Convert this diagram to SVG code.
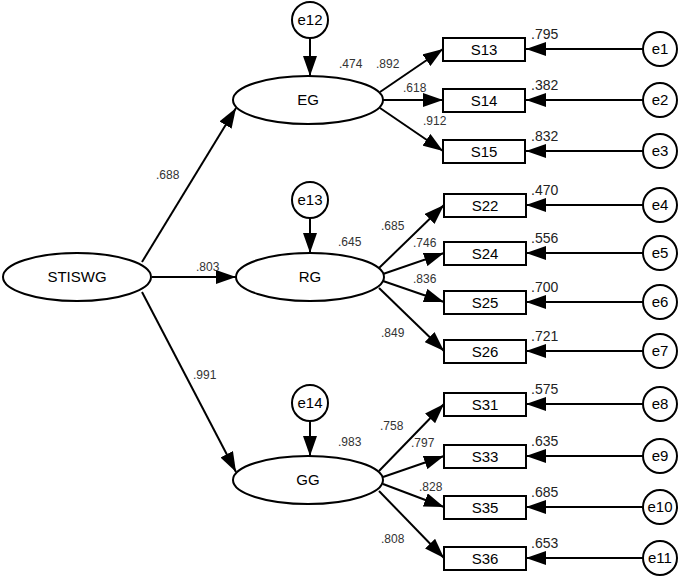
<svg xmlns="http://www.w3.org/2000/svg" width="685" height="580" viewBox="0 0 685 580">
<style>
.s{fill:#fff;stroke:#000;stroke-width:2}
.t{font-family:"Liberation Sans",Arial,sans-serif;font-size:15px;text-anchor:middle;fill:#000}
.c{font-family:"Liberation Sans",Arial,sans-serif;font-size:12px;fill:#333}
.v{font-family:"Liberation Sans",Arial,sans-serif;font-size:14px;fill:#222}
.l{stroke:#000;stroke-width:2;fill:none;marker-end:url(#a)}
</style>
<defs><marker id="a" viewBox="0 0 10 10" refX="10" refY="5" markerWidth="10" markerHeight="8" markerUnits="userSpaceOnUse" orient="auto" style="overflow:visible"><path d="M0,0L10,5L0,10z" transform="scale(2,1.3) translate(-5,-1.15)" fill="#000"/></marker>
<marker id="b" viewBox="0 0 20 14" refX="20" refY="7" markerWidth="20" markerHeight="14" markerUnits="userSpaceOnUse" orient="auto"><path d="M0,0L20,7L0,14z" fill="#000"/></marker></defs>
<g id="connectors" fill="none" stroke="#000" stroke-width="2">
<g marker-end="url(#b)">
<line x1="142" y1="262" x2="236" y2="108"/>
<line x1="152" y1="277" x2="236" y2="277"/>
<line x1="142" y1="292" x2="236" y2="472"/>
<line x1="310" y1="38" x2="310" y2="76"/>
<line x1="310" y1="218" x2="310" y2="253"/>
<line x1="310" y1="421" x2="310" y2="456"/>
<line x1="380" y1="92" x2="443" y2="49"/>
<line x1="383" y1="100" x2="443" y2="100"/>
<line x1="380" y1="108" x2="443" y2="151"/>
<line x1="379" y1="268" x2="444" y2="205"/>
<line x1="383" y1="274" x2="444" y2="253"/>
<line x1="383" y1="281" x2="444" y2="302"/>
<line x1="379" y1="288" x2="444" y2="351"/>
<line x1="379" y1="471" x2="444" y2="404"/>
<line x1="383" y1="477" x2="444" y2="456"/>
<line x1="383" y1="484" x2="444" y2="507"/>
<line x1="379" y1="491" x2="444" y2="558"/>
<line x1="643" y1="49" x2="526" y2="49"/>
<line x1="643" y1="100" x2="526" y2="100"/>
<line x1="643" y1="151" x2="526" y2="151"/>
<line x1="643" y1="205" x2="526" y2="205"/>
<line x1="643" y1="253" x2="526" y2="253"/>
<line x1="643" y1="302" x2="526" y2="302"/>
<line x1="643" y1="351" x2="526" y2="351"/>
<line x1="643" y1="404" x2="526" y2="404"/>
<line x1="643" y1="456" x2="526" y2="456"/>
<line x1="643" y1="507" x2="526" y2="507"/>
<line x1="643" y1="558" x2="526" y2="558"/>
</g>
</g>
<g id="labels">
<text class="c" x="156" y="179">.688</text>
<text class="c" x="196" y="271">.803</text>
<text class="c" x="193" y="379">.991</text>
<text class="c" x="339" y="68">.474</text>
<text class="c" x="376" y="68">.892</text>
<text class="c" x="403" y="92">.618</text>
<text class="c" x="423" y="125">.912</text>
<text class="c" x="381" y="230">.685</text>
<text class="c" x="338" y="246">.645</text>
<text class="c" x="413" y="247">.746</text>
<text class="c" x="413" y="283">.836</text>
<text class="c" x="381" y="337">.849</text>
<text class="c" x="380" y="430">.758</text>
<text class="c" x="338" y="446">.983</text>
<text class="c" x="411" y="447">.797</text>
<text class="c" x="419" y="491">.828</text>
<text class="c" x="381" y="543">.808</text>
<text class="v" x="531" y="39">.795</text>
<text class="v" x="531" y="90">.382</text>
<text class="v" x="531" y="141">.832</text>
<text class="v" x="531" y="195">.470</text>
<text class="v" x="531" y="243">.556</text>
<text class="v" x="531" y="292">.700</text>
<text class="v" x="531" y="341">.721</text>
<text class="v" x="531" y="394">.575</text>
<text class="v" x="531" y="446">.635</text>
<text class="v" x="531" y="497">.685</text>
<text class="v" x="531" y="548">.653</text>
</g>
<g id="STISWG"><ellipse class="s" cx="77" cy="277" rx="74" ry="24"/><text class="t" x="77" y="282">STISWG</text></g>
<g id="EG"><ellipse class="s" cx="308" cy="100" rx="75" ry="24"/><text class="t" x="308" y="105">EG</text></g>
<g id="RG"><ellipse class="s" cx="310" cy="277" rx="74" ry="24"/><text class="t" x="310" y="282">RG</text></g>
<g id="GG"><ellipse class="s" cx="308" cy="480" rx="75" ry="24"/><text class="t" x="308" y="485">GG</text></g>
<g id="e12"><circle class="s" cx="310" cy="20" r="18"/><text class="t" x="310" y="25">e12</text></g>
<g id="e13"><circle class="s" cx="310" cy="200" r="18"/><text class="t" x="310" y="205">e13</text></g>
<g id="e14"><circle class="s" cx="310" cy="403" r="18"/><text class="t" x="310" y="408">e14</text></g>
<g id="S13"><rect class="s" x="443" y="38" width="82" height="23"/><text class="t" x="484" y="55">S13</text></g>
<g id="S14"><rect class="s" x="443" y="89" width="82" height="23"/><text class="t" x="484" y="106">S14</text></g>
<g id="S15"><rect class="s" x="443" y="140" width="82" height="23"/><text class="t" x="484" y="157">S15</text></g>
<g id="S22"><rect class="s" x="444" y="194" width="82" height="23"/><text class="t" x="485" y="211">S22</text></g>
<g id="S24"><rect class="s" x="444" y="242" width="82" height="23"/><text class="t" x="485" y="259">S24</text></g>
<g id="S25"><rect class="s" x="444" y="291" width="82" height="23"/><text class="t" x="485" y="308">S25</text></g>
<g id="S26"><rect class="s" x="444" y="340" width="82" height="23"/><text class="t" x="485" y="357">S26</text></g>
<g id="S31"><rect class="s" x="444" y="393" width="82" height="23"/><text class="t" x="485" y="410">S31</text></g>
<g id="S33"><rect class="s" x="444" y="445" width="82" height="23"/><text class="t" x="485" y="462">S33</text></g>
<g id="S35"><rect class="s" x="444" y="496" width="82" height="23"/><text class="t" x="485" y="513">S35</text></g>
<g id="S36"><rect class="s" x="444" y="547" width="82" height="23"/><text class="t" x="485" y="564">S36</text></g>
<g id="e1"><circle class="s" cx="660" cy="49" r="17"/><text class="t" x="660" y="54">e1</text></g>
<g id="e2"><circle class="s" cx="660" cy="100" r="17"/><text class="t" x="660" y="105">e2</text></g>
<g id="e3"><circle class="s" cx="660" cy="151" r="17"/><text class="t" x="660" y="156">e3</text></g>
<g id="e4"><circle class="s" cx="660" cy="205" r="17"/><text class="t" x="660" y="210">e4</text></g>
<g id="e5"><circle class="s" cx="660" cy="253" r="17"/><text class="t" x="660" y="258">e5</text></g>
<g id="e6"><circle class="s" cx="660" cy="302" r="17"/><text class="t" x="660" y="307">e6</text></g>
<g id="e7"><circle class="s" cx="660" cy="351" r="17"/><text class="t" x="660" y="356">e7</text></g>
<g id="e8"><circle class="s" cx="660" cy="404" r="17"/><text class="t" x="660" y="409">e8</text></g>
<g id="e9"><circle class="s" cx="660" cy="456" r="17"/><text class="t" x="660" y="461">e9</text></g>
<g id="e10"><circle class="s" cx="660" cy="507" r="17"/><text class="t" x="660" y="512">e10</text></g>
<g id="e11"><circle class="s" cx="660" cy="558" r="17"/><text class="t" x="660" y="563">e11</text></g>
</svg>
